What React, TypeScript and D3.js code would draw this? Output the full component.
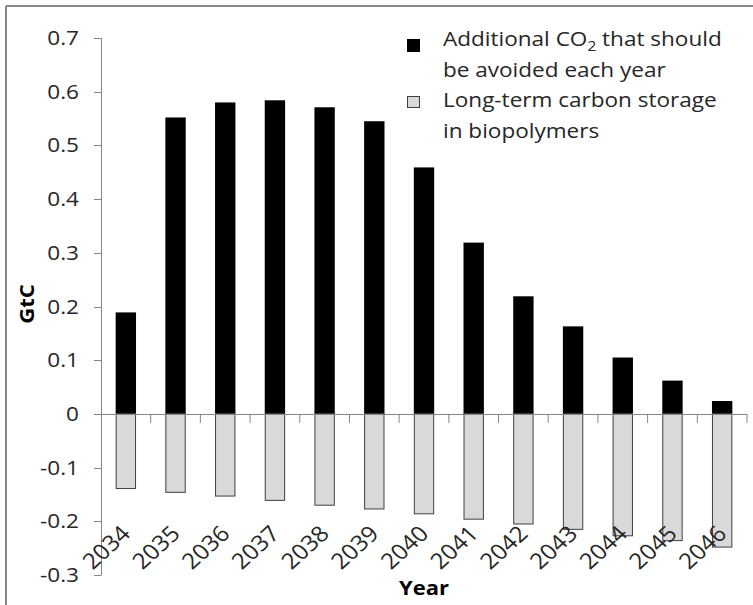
import React from "react";
import * as d3 from "d3";

const years = ["2034","2035","2036","2037","2038","2039","2040","2041","2042","2043","2044","2045","2046"];
const avoided = [0.189, 0.552, 0.580, 0.584, 0.571, 0.545, 0.459, 0.319, 0.219, 0.163, 0.105, 0.062, 0.024];
const storage = [-0.139, -0.146, -0.153, -0.161, -0.170, -0.177, -0.186, -0.196, -0.205, -0.215, -0.227, -0.236, -0.248];
const yTicks = [0.7, 0.6, 0.5, 0.4, 0.3, 0.2, 0.1, 0, -0.1, -0.2, -0.3];

const W = 753, H = 605;
const FONT = "'Open Sans', 'Noto Sans', sans-serif";
const SX = 1.1;
const AXIS = "#868686";
const TXT = "#262626";

export default function App() {
  const y = d3.scaleLinear().domain([-0.3, 0.7]).range([575, 38]);
  const x = d3.scaleBand<string>().domain(years).range([101, 747]).paddingInner(0.59).paddingOuter(0.295);
  const step = x.step();
  const x0 = 101;
  const bw = x.bandwidth();

  const fmt = (v: number) => (v === 0 ? "0" : d3.format(".1f")(v).replace("\u2212", "-"));

  return (
    <div style={{ position: "absolute", left: 0, top: 0 }}>
      <svg width={W} height={H} style={{ display: "block", background: "#fff" }}>
        {/* outer frame */}
        <line x1={6} y1={6} x2={W} y2={6} stroke={AXIS} strokeWidth={2} />
        <line x1={6} y1={6} x2={6} y2={H} stroke={AXIS} strokeWidth={2} />

        {/* bars */}
        {years.map((yr, i) => (
          <rect key={"a" + yr} x={x(yr)} y={y(avoided[i])} width={bw} height={y(0) - y(avoided[i])} fill="#000" />
        ))}
        {years.map((yr, i) => (
          <rect key={"s" + yr} x={x(yr)! + 0.5} y={y(0)} width={bw - 1} height={y(storage[i]) - y(0)} fill="#d9d9d9" stroke="#404040" strokeWidth={1} />
        ))}

        {/* y axis */}
        <line x1={x0 + 0.5} x2={x0 + 0.5} y1={y(0.7)} y2={y(-0.3)} stroke={AXIS} strokeWidth={1} />
        {yTicks.map((t) => (
          <g key={"yt" + t}>
            <line x1={x0 - 7} x2={x0 + 0.5} y1={Math.round(y(t)) + 0.5} y2={Math.round(y(t)) + 0.5} stroke={AXIS} strokeWidth={1} />
            <text transform={`translate(79,${y(t) + 7}) scale(${SX},1)`} textAnchor="end" fontFamily={FONT} fontSize={20.5} fill={TXT}>
              {fmt(t)}
            </text>
          </g>
        ))}

        {/* x axis at zero */}
        <line x1={x0} x2={747} y1={Math.round(y(0)) + 0.5} y2={Math.round(y(0)) + 0.5} stroke={AXIS} strokeWidth={1} />
        {years.map((yr, i) => (
          <line key={"xt" + yr} x1={x0 + step * (i + 1)} x2={x0 + step * (i + 1)} y1={y(0)} y2={y(0) + 9} stroke={AXIS} strokeWidth={1} />
        ))}
        {years.map((yr) => {
          const cx = x(yr)! + bw / 2;
          return (
            <text key={"xl" + yr} transform={`translate(${cx + 6},${535}) scale(${SX},1) rotate(-45)`} textAnchor="end" fontFamily={FONT} fontSize={22} fill={TXT}>
              {yr}
            </text>
          );
        })}

        {/* axis titles */}
        <text transform={`translate(${(101 + 747) / 2},595) scale(${SX},1)`} textAnchor="middle" fontFamily={FONT} fontWeight="bold" fontSize={20} fill="#000">
          Year
        </text>
        <text transform={`translate(34,304) rotate(-90) scale(${SX},1)`} textAnchor="middle" fontFamily={FONT} fontWeight="bold" fontSize={20} fill="#000">
          GtC
        </text>

        {/* legend */}
        <rect x={407} y={39} width={13} height={13} fill="#000" />
        <text transform={`translate(443,46) scale(${SX},1)`} fontFamily={FONT} fontSize={20.5} fill={TXT}>
          Additional CO<tspan fontSize={14} dy={5}>2</tspan>
          <tspan dy={-5}> that should</tspan>
        </text>
        <text transform={`translate(443,77) scale(${SX},1)`} fontFamily={FONT} fontSize={20.5} fill={TXT}>
          be avoided each year
        </text>
        <rect x={407.5} y={96.5} width={12} height={11} fill="#d9d9d9" stroke="#404040" strokeWidth={1} />
        <text transform={`translate(443,107) scale(${SX},1)`} fontFamily={FONT} fontSize={20.5} fill={TXT}>
          Long-term carbon storage
        </text>
        <text transform={`translate(443,138) scale(${SX},1)`} fontFamily={FONT} fontSize={20.5} fill={TXT}>
          in biopolymers
        </text>
      </svg>
    </div>
  );
}
